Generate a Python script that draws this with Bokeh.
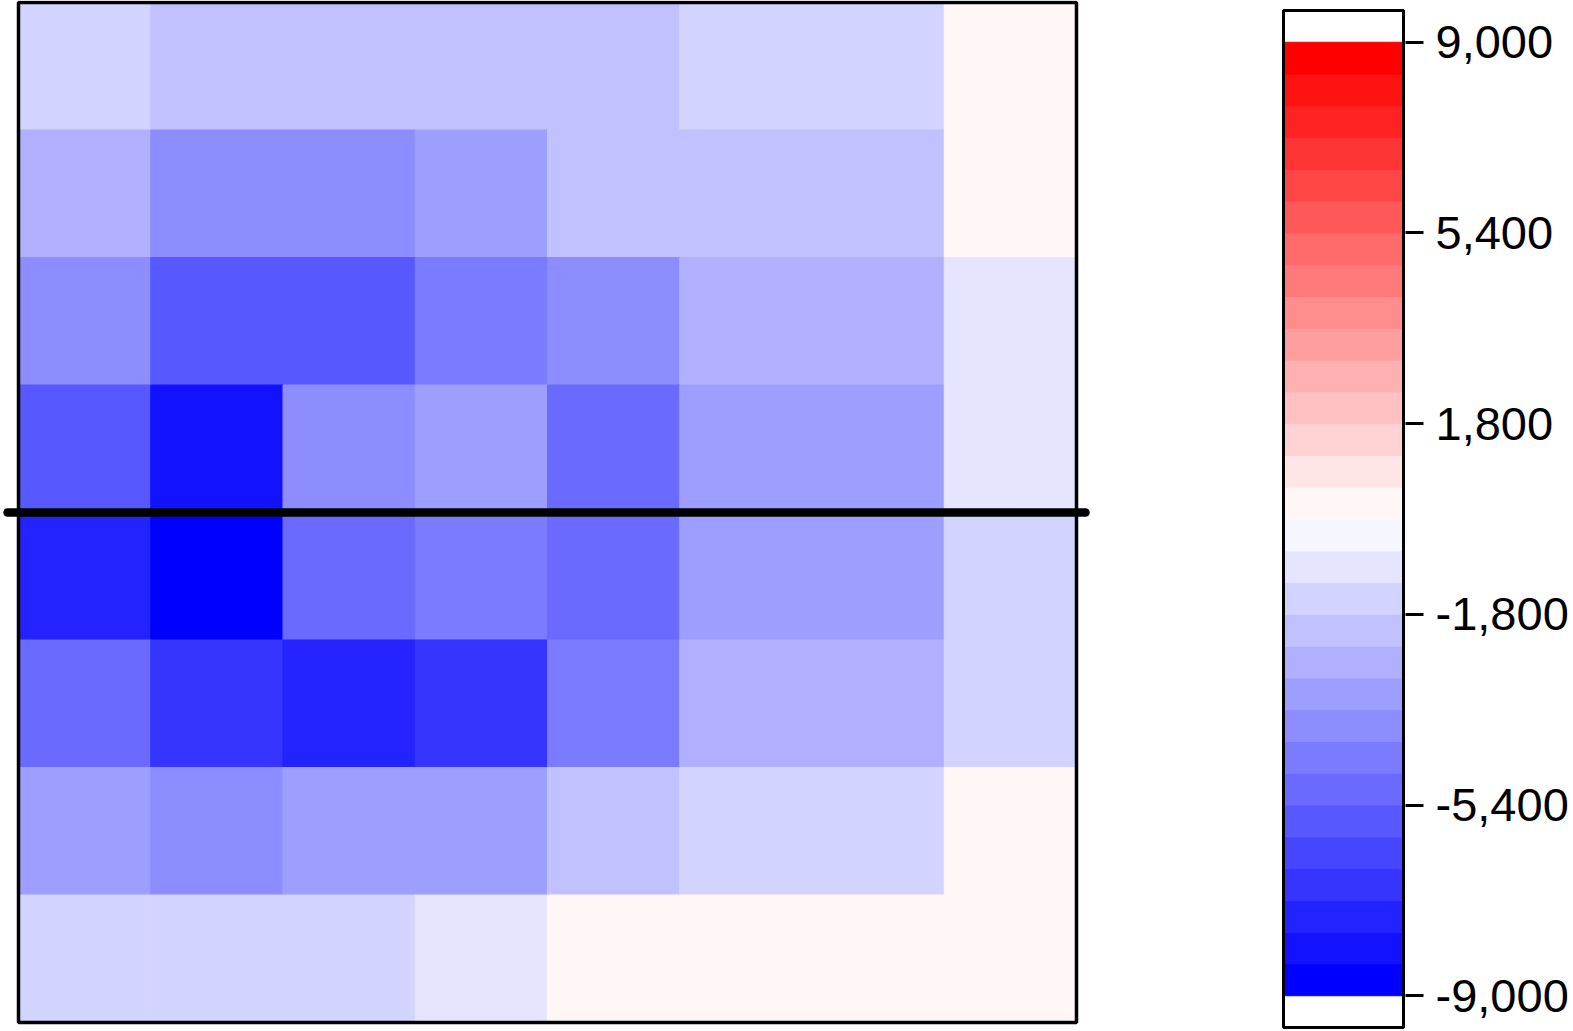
import numpy as np
from bokeh.plotting import figure
from bokeh.models import ColumnDataSource, LinearColorMapper, FixedTicker, NumeralTickFormatter, Range1d
from bokeh.transform import transform
from bokeh.layouts import row
from bokeh.embed import file_html
from bokeh.resources import INLINE

# ---------------- data ----------------
n_rows, n_cols = 8, 8
# cell values, rows listed from top to bottom
row_0 = [-1500, -2100, -2100, -2100, -2100, -1500, -1500, 300]
row_1 = [-2700, -3900, -3900, -3300, -2100, -2100, -2100, 300]
row_2 = [-3900, -5700, -5700, -4500, -3900, -2700, -2700, -900]
row_3 = [-5700, -8100, -3900, -3300, -5100, -3300, -3300, -900]
row_4 = [-7500, -8700, -5100, -4500, -5100, -3300, -3300, -1500]
row_5 = [-5100, -6900, -7500, -6900, -4500, -2700, -2700, -1500]
row_6 = [-3300, -3900, -3300, -3300, -2100, -1500, -1500, 300]
row_7 = [-1500, -1500, -1500, -900, 300, 300, 300, 300]
rows = [row_0, row_1, row_2, row_3, row_4, row_5, row_6, row_7]

divider_row = 4          # horizontal line between 4th and 5th row (from the top)
value_low, value_high = -9000, 9000
n_levels = 30
cbar_ticks = [-9000, -5400, -1800, 1800, 5400, 9000]

# ---------------- palette (blue - white - red, 30 steps) ----------------
def ramp(t):
    if t <= 0.5:
        s = t / 0.5
        r = g = round(255 * s); b = 255
    else:
        s = (t - 0.5) / 0.5
        r = 255; g = b = round(255 * (1 - s))
    return "#%02x%02x%02x" % (r, g, b)

palette = [ramp(i / (n_levels - 1)) for i in range(n_levels)]
mapper = LinearColorMapper(palette=palette, low=value_low, high=value_high)

# ---------------- layout constants (pixels) ----------------
FIG_H = 1031
FIG1_W = 1100
FIG2_W = 473
MAP_L, MAP_R, MAP_T, MAP_B = 18, 1076, 2, 1022
px_col = (MAP_R - MAP_L) / n_cols
px_row = (MAP_B - MAP_T) / n_rows

# ---------------- heatmap ----------------
xs, ys, vals = [], [], []
for r, vals_row in enumerate(rows):
    for c, v in enumerate(vals_row):
        xs.append(c + 0.5)
        ys.append(n_rows - r - 0.5)
        vals.append(v)
src = ColumnDataSource(dict(x=xs, y=ys, value=vals))

p1 = figure(width=FIG1_W, height=FIG_H,
            x_range=Range1d(-MAP_L / px_col, n_cols + (FIG1_W - MAP_R) / px_col),
            y_range=Range1d(-(FIG_H - MAP_B) / px_row, n_rows + MAP_T / px_row),
            toolbar_location=None, output_backend="svg",
            x_axis_location=None, y_axis_location=None,
            min_border=0, min_border_left=0, min_border_right=0,
            min_border_top=0, min_border_bottom=0,
            outline_line_color=None, background_fill_color="white",
            border_fill_color="white")
p1.grid.visible = False
p1.rect(x="x", y="y", width=1, height=1, source=src,
        fill_color=transform("value", mapper),
        line_color=transform("value", mapper), line_width=1)
# frame border
p1.rect(x=n_cols / 2, y=n_rows / 2, width=n_cols, height=n_rows,
        fill_color=None, line_color="black", line_width=3.5)
# divider line
y_div = n_rows - divider_row
p1.line(x=[-0.083, n_cols + 0.068], y=[y_div, y_div], line_color="black",
        line_width=8.5, line_cap="round")

# ---------------- colour bar ----------------
step = (value_high - value_low) / n_levels
cb_mid = [value_low + step * (i + 0.5) for i in range(n_levels)]
cb_src = ColumnDataSource(dict(y=cb_mid, value=cb_mid))

CB_L, CB_W, CB_T, CB_B = 183, 120, 10, 1027
PAD = 2
cb_top, cb_bot = value_high + step, value_low - step
u_per_px = (cb_top - cb_bot) / (CB_B - CB_T)
x_pad = PAD / CB_W
p2 = figure(width=FIG2_W, height=FIG_H,
            x_range=Range1d(-x_pad, 1 + x_pad),
            y_range=Range1d(cb_bot - (FIG_H - CB_B) * u_per_px, cb_top + CB_T * u_per_px),
            toolbar_location=None, output_backend="svg",
            x_axis_location=None, y_axis_location="right",
            min_border=0,
            min_border_left=CB_L - PAD, min_border_right=FIG2_W - CB_L - CB_W - PAD,
            min_border_top=0, min_border_bottom=0,
            outline_line_color=None,
            background_fill_color="white", border_fill_color="white")
p2.grid.visible = False
p2.rect(x=0.5, y="y", width=1, height=step, source=cb_src,
        fill_color=transform("value", mapper),
        line_color=transform("value", mapper), line_width=1)
# colour bar box (includes the two empty end boxes)
p2.rect(x=0.5, y=(cb_top + cb_bot) / 2, width=1, height=cb_top - cb_bot,
        fill_color=None, line_color="black", line_width=3)

ax = p2.yaxis[0]
ax.ticker = FixedTicker(ticks=cbar_ticks, minor_ticks=[])
ax.formatter = NumeralTickFormatter(format="0,0")
ax.axis_line_color = None
ax.major_tick_in = 0
ax.major_tick_out = 18
ax.major_tick_line_width = 3
ax.major_tick_line_color = "black"
ax.minor_tick_line_color = None
ax.major_label_standoff = 12
ax.major_label_text_font = "Liberation Sans"
ax.major_label_text_font_size = "47px"
ax.major_label_text_color = "black"

layout = row(p1, p2, spacing=0)
open("out.html", "w").write(file_html(layout, INLINE))
